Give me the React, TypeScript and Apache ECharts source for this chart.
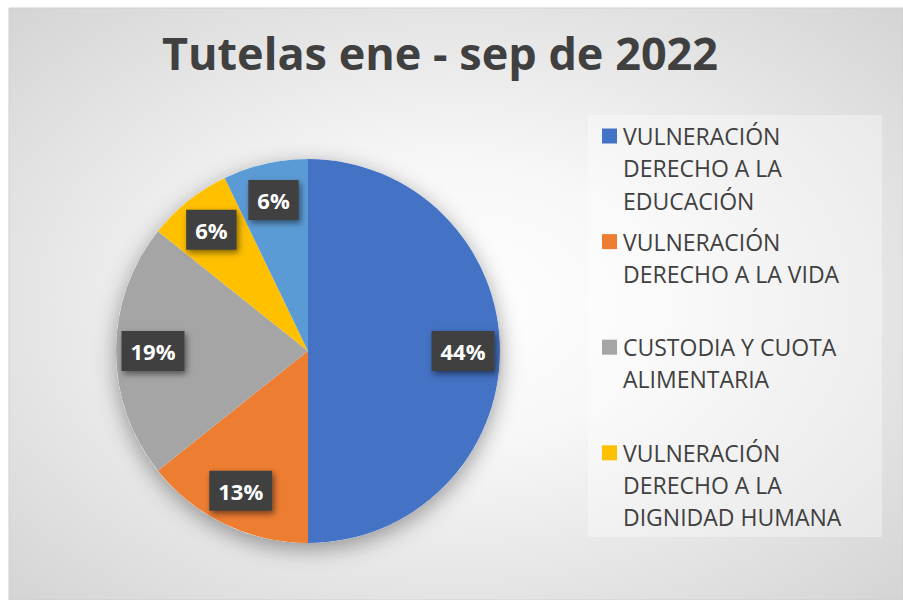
import React, { useEffect, useRef } from "react";
import * as echarts from "echarts";

const TITLE = "Tutelas ene - sep de 2022";
const categories = [
  "VULNERACIÓN DERECHO A LA EDUCACIÓN",
  "VULNERACIÓN DERECHO A LA VIDA",
  "CUSTODIA Y CUOTA ALIMENTARIA",
  "VULNERACIÓN DERECHO A LA DIGNIDAD HUMANA",
  "OTROS",
];
const values = [14, 4, 6, 2, 2];
const percentLabels = ["44%", "13%", "19%", "6%", "6%"];
const colors = ["#4472C4", "#ED7D31", "#A5A5A5", "#FFC000", "#5B9BD5"];
const legendShown = 4;

const FONT = "'Open Sans', 'Noto Sans', sans-serif";
const CENTER: [number, number] = [308, 351];
const RADIUS = 192;

export default function App() {
  const ref = useRef<HTMLDivElement>(null);
  useEffect(() => {
    if (!ref.current) return;
    const chart = echarts.init(ref.current, undefined, { renderer: "svg" });
    const total = values.reduce((a, b) => a + b, 0);

    const legendItems: any[] = [];
    categories.slice(0, legendShown).forEach((name, i) => {
      const cy = 136 + i * 105.6;
      legendItems.push({
        type: "rect",
        shape: { x: 602, y: cy - 7.5, width: 15, height: 15 },
        style: { fill: colors[i] },
        z: 5,
      });
      legendItems.push({
        type: "text",
        x: 623,
        y: cy - 16.2,
        z: 5,
        style: {
          text: name,
          width: 235,
          overflow: "break",
          font: `23px ${FONT}`,
          fontFamily: FONT,
          fontSize: 23,
          lineHeight: 32.3,
          fill: "#404040",
          align: "left",
          verticalAlign: "top",
        },
      });
    });

    chart.setOption({
      animation: false,
      backgroundColor: "#ffffff",
      title: {
        text: TITLE,
        left: 440,
        top: 30,
        textAlign: "center",
        padding: 0,
        textStyle: {
          fontFamily: FONT,
          fontWeight: "bold",
          fontSize: 45,
          color: "#404040",
        },
      },
      graphic: [
        {
          type: "rect",
          z: -10,
          shape: { x: 9, y: 8, width: 894, height: 592 },
          style: {
            fill: new echarts.graphic.RadialGradient(0.5, 0.5, 0.95, [
              { offset: 0, color: "#ffffff" },
              { offset: 0.25, color: "#f7f7f7" },
              { offset: 1, color: "#c2c2c2" },
            ]),
            stroke: "#cfcfcf",
            lineWidth: 1,
          },
        },
        {
          type: "rect",
          z: -5,
          shape: { x: 588, y: 115, width: 294, height: 422 },
          style: { fill: "rgba(255,255,255,0.35)" },
        },
        ...legendItems,
      ],
      series: [
        {
          type: "pie",
          name: "sombra",
          silent: true,
          z: 1,
          center: CENTER,
          radius: RADIUS,
          startAngle: 90,
          data: [{ value: total, name: "total" }],
          label: { show: false },
          labelLine: { show: false },
          emphasis: { disabled: true },
          tooltip: { show: false },
          itemStyle: {
            color: "#ffffff",
            shadowBlur: 22,
            shadowOffsetY: 6,
            shadowColor: "rgba(0,0,0,0.38)",
          },
        },
        {
          type: "pie",
          name: "Tutelas",
          z: 2,
          center: CENTER,
          radius: RADIUS,
          startAngle: 90,
          clockwise: true,
          data: categories.map((n, i) => ({
            name: n,
            value: values[i],
            itemStyle: { color: colors[i] },
          })),
          label: { show: false },
          labelLine: { show: false },
          emphasis: { disabled: true },
        },
        {
          type: "pie",
          name: "etiquetas",
          silent: true,
          z: 3,
          center: CENTER,
          radius: [112, RADIUS],
          startAngle: 90,
          clockwise: true,
          data: categories.map((n, i) => ({
            name: n,
            value: values[i],
            itemStyle: { color: "rgba(0,0,0,0)" },
          })),
          labelLine: { show: false },
          emphasis: { disabled: true },
          label: {
            show: true,
            position: "inside",
            formatter: (p: any) => percentLabels[p.dataIndex],
            color: "#ffffff",
            fontFamily: FONT,
            fontWeight: "bold",
            fontSize: 22,
            lineHeight: 22,
            backgroundColor: "#3f3f3f",
            padding: [9, 9],
            shadowBlur: 6,
            shadowOffsetX: 2,
            shadowOffsetY: 3,
            shadowColor: "rgba(0,0,0,0.5)",
          },
        },
      ],
    });
    return () => chart.dispose();
  }, []);
  return (
    <div
      ref={ref}
      style={{ position: "fixed", left: 0, top: 0, width: 903, height: 600, background: "#fff" }}
    />
  );
}
